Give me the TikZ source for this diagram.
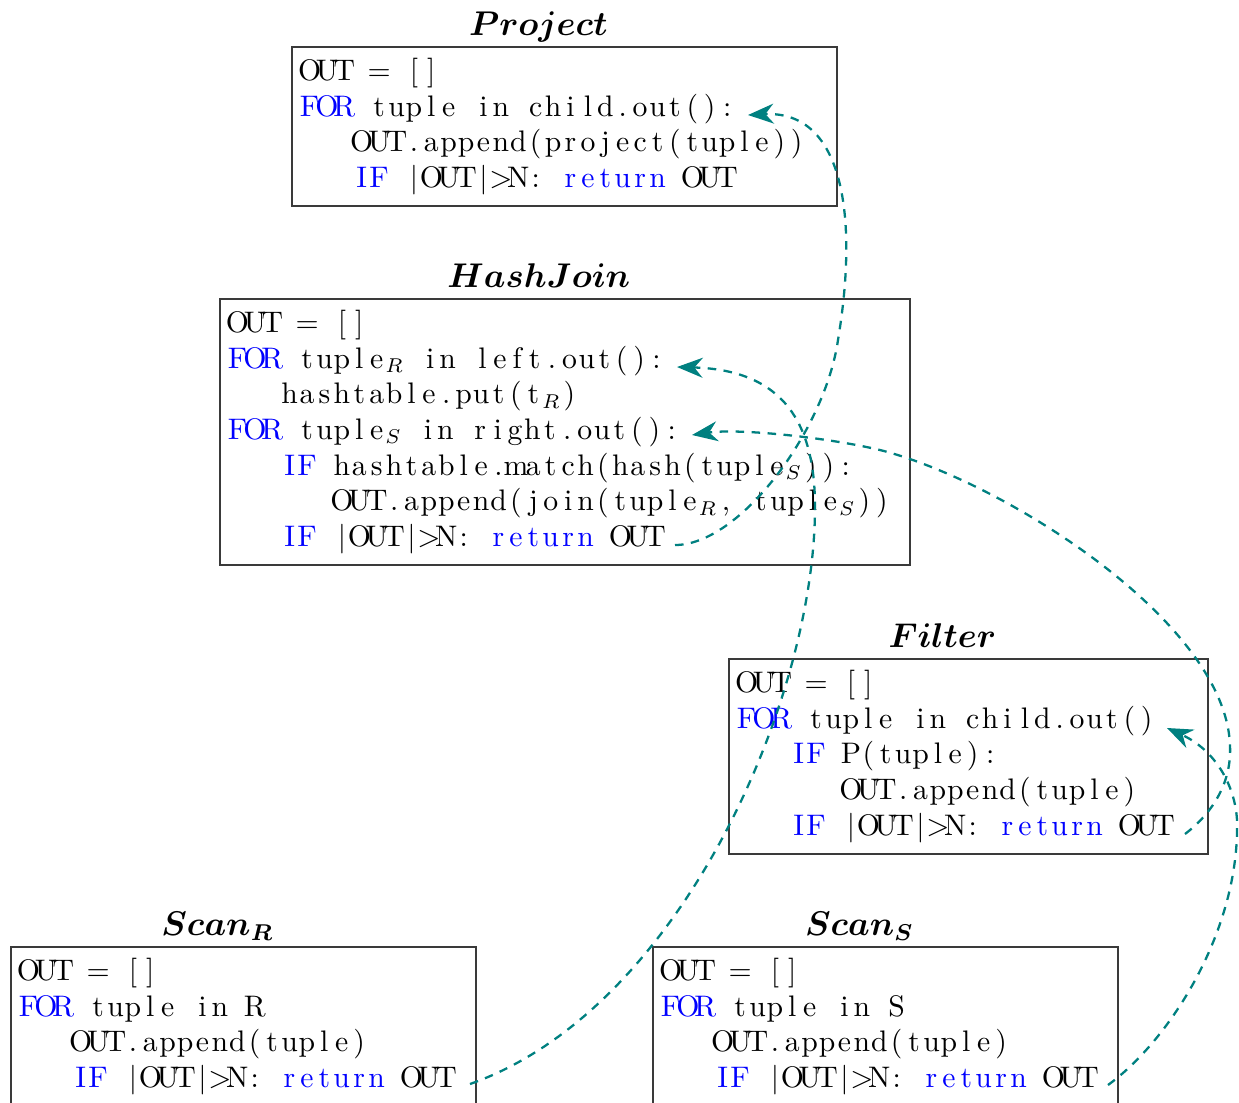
\documentclass[tikz,border=0pt]{standalone}
\usepackage{xcolor}
\usetikzlibrary{arrows.meta,calc,positioning}
\definecolor{FlowTeal}{HTML}{008080}
\definecolor{KeyBlue}{HTML}{0000FF}
\definecolor{BoxGray}{HTML}{3A3A3A}
\newlength\colw
\setlength\colw{6.09pt}
\ExplSyntaxOn
\NewDocumentCommand\codechars{m}{\str_map_inline:nn {#1} {\makebox[\colw][c]{##1}}}
\ExplSyntaxOff
\newcommand\codekw[1]{\textcolor{KeyBlue}{\codechars{#1}}}
\newcommand\codesub[1]{$_{#1}$}
\newcommand\codetab[1]{\hspace*{#1\colw}}
\newcommand\tstrut{\rule{0pt}{11.7pt}}
\newcommand\bstrut{\rule[-6.5pt]{0pt}{6.5pt}}

\begin{document}
\begin{tikzpicture}[x=0.35pt,y=-0.35pt,
    opbox/.style={draw=BoxGray,line width=0.6pt,anchor=north west,
      align=left,inner xsep=3.15pt,inner ysep=0pt,
      font=\fontsize{10.4}{12.5}\selectfont},
    optitle/.style={anchor=base,font=\fontsize{11.8}{13}\selectfont\boldmath},
    flow/.style={-{Stealth[length=9pt,width=7pt]},FlowTeal,
      line width=0.8pt,dash pattern=on 3pt off 2.6pt}]

  \useasboundingbox (0,0) rectangle (1239,1102);

  % operators
  \node[opbox,text width=184.45pt] (project) at (291,46)
    {\tstrut\codechars{OUT = []}\\
     \codekw{FOR}\codechars{ tuple in child.out():}\\
     \codetab{3}\codechars{OUT.append(project(tuple))}\\
     \codetab{3}\codekw{IF}\codechars{ |OUT|>N: }\codekw{return}\codechars{ OUT}\bstrut};

  \node[opbox,text width=235.2pt] (hashjoin) at (219,298)
    {\tstrut\codechars{OUT = []}\\
     \codekw{FOR}\codechars{ tuple}\codesub{R}\codechars{ in left.out():}\\
     \codetab{3}\codechars{hashtable.put(t}\codesub{R}\codechars{)}\\
     \codekw{FOR}\codechars{ tuple}\codesub{S}\codechars{ in right.out():}\\
     \codetab{3}\codekw{IF}\codechars{ hashtable.match(hash(tuple}\codesub{S}\codechars{)):}\\
     \codetab{6}\codechars{OUT.append(join(tuple}\codesub{R}\codechars{, tuple}\codesub{S}\codechars{))}\\
     \codetab{3}\codekw{IF}\codechars{ |OUT|>N: }\codekw{return}\codechars{ OUT}\bstrut};

  \node[opbox,text width=161.35pt] (filter) at (728,658)
    {\tstrut\codechars{OUT = []}\\
     \codekw{FOR}\codechars{ tuple in child.out()}\\
     \codetab{3}\codekw{IF}\codechars{ P(tuple):}\\
     \codetab{6}\codechars{OUT.append(tuple)}\\
     \codetab{3}\codekw{IF}\codechars{ |OUT|>N: }\codekw{return}\codechars{ OUT}\bstrut};

  \node[opbox,text width=156.45pt] (scanr) at (10,946)
    {\tstrut\codechars{OUT = []}\\
     \codekw{FOR}\codechars{ tuple in R}\\
     \codetab{3}\codechars{OUT.append(tuple)}\\
     \codetab{3}\codekw{IF}\codechars{ |OUT|>N: }\codekw{return}\codechars{ OUT}\bstrut};

  \node[opbox,text width=156.45pt] (scans) at (652,946)
    {\tstrut\codechars{OUT = []}\\
     \codekw{FOR}\codechars{ tuple in S}\\
     \codetab{3}\codechars{OUT.append(tuple)}\\
     \codetab{3}\codekw{IF}\codechars{ |OUT|>N: }\codekw{return}\codechars{ OUT}\bstrut};

  % titles
  \node[optitle] (projecttitle) at ($(project.north)+(-26,-11)$) {$Project$};
  \node[optitle] (hashjointitle) at ($(hashjoin.north)+(-26,-11)$) {$HashJoin$};
  \node[optitle] (filtertitle) at ($(filter.north)+(-26,-11)$) {$Filter$};
  \node[optitle] (scanrtitle) at ($(scanr.north)+(-26,-11)$) {$Scan_R$};
  \node[optitle] (scanstitle) at ($(scans.north)+(-26,-11)$) {$Scan_S$};

  % ends of the flows
  \coordinate (projin) at ($(project.north west)+(457,69)$);
  \coordinate (hjleft) at ($(hashjoin.north west)+(458,69)$);
  \coordinate (hjright) at ($(hashjoin.north west)+(473,137)$);
  \coordinate (hjout) at ($(hashjoin.north west)+(456,247)$);
  \coordinate (filterin) at ($(filter.north west)+(439,70)$);
  \coordinate (filterout) at ($(filter.north west)+(457,176)$);
  \coordinate (scanrout) at ($(scanr.north west)+(460,138)$);
  \coordinate (scansout) at ($(scans.north west)+(456,139)$);

  % flows
  \draw[flow] (hjout) .. controls (740,545) and (825,430) .. (838,340)
    .. controls (858,220) and (845,110) .. (projin);
  \draw[flow] (scanrout) .. controls (680,1010) and (815,700) .. (815,507)
    .. controls (815,425) and (785,370) .. (hjleft);
  \draw[flow] (filterout) .. controls (1210,815) and (1232,785) .. (1230,745)
    .. controls (1225,620) and (1000,480) .. (880,450)
    .. controls (830,438) and (740,428) .. (hjright);
  \draw[flow] (scansout) .. controls (1170,1040) and (1240,930) .. (1237,820)
    .. controls (1235,785) and (1215,750) .. (filterin);

\end{tikzpicture}
\end{document}
